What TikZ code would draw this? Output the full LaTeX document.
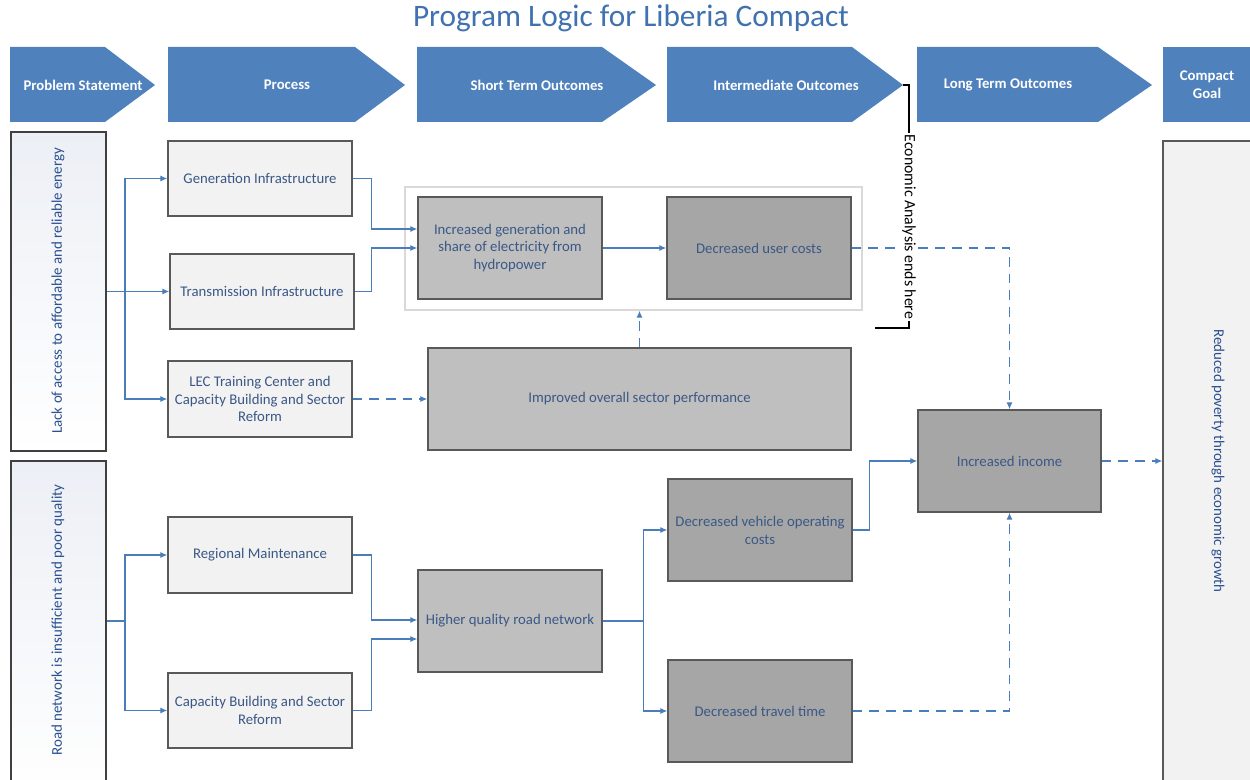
\documentclass[tikz,border=0pt]{standalone}
\usepackage{fontspec}
\setmainfont{Carlito}
\usetikzlibrary{fit,arrows.meta,calc}
\definecolor{hdr}{HTML}{4F81BD}
\definecolor{titlec}{HTML}{3F72AF}
\definecolor{arrc}{HTML}{4A7EBB}
\definecolor{txt}{HTML}{3A5886}
\definecolor{txtb}{HTML}{2B4F8F}
\definecolor{procfill}{HTML}{F2F2F2}
\definecolor{stfill}{HTML}{BFBFBF}
\definecolor{imfill}{HTML}{A6A6A6}
\definecolor{bgray}{HTML}{595959}
\definecolor{pgray}{HTML}{404040}
\definecolor{grpc}{HTML}{D9D9D9}
\definecolor{shadec}{HTML}{ECEFF5}
\newcommand\bxfont{\fontsize{8.4}{10.2}\selectfont}
\newcommand\rtfont{\fontsize{8.5}{10.2}\selectfont}
\newcommand\hdfont{\fontsize{8.4}{10}\selectfont\bfseries}
\tikzset{
  hdrshape/.style={fill=hdr},
  hdrtext/.style={text=white, font=\hdfont, align=center, inner sep=0pt},
  probbox/.style={draw=pgray, line width=1.1pt, top color=shadec, bottom color=white, inner sep=0pt},
  pbox/.style={draw=bgray, line width=0.8pt, fill=procfill, inner sep=0pt, text=txt, align=center, font=\bxfont},
  stbox/.style={pbox, fill=stfill},
  imbox/.style={pbox, fill=imfill},
  grpbox/.style={draw=grpc, line width=0.8pt, fill=white, inner sep=0pt},
  btext/.style={text=txt, font=\bxfont, align=center},
  rottext/.style={text=txtb, font=\rtfont, inner sep=0pt},
  arr/.style={draw=arrc, line width=0.7pt, -{Latex[length=4pt,width=3.5pt]}},
  darr/.style={arr, dash pattern=on 5.5pt off 4pt},
  bracket/.style={draw=black, line width=1.1pt},
}
\begin{document}
\begin{tikzpicture}[x=0.02cm,y=-0.02cm]
\path[use as bounding box] (0,0) rectangle (1250,780);
\clip (0,0) rectangle (1250,780);
\fill[white] (0,0) rectangle (1250,780);

% title
\node[text=titlec, font=\fontsize{17.8}{21}\selectfont, inner sep=0pt] (title) at (631,18) {Program Logic for Liberia Compact};

% header chevrons
\fill[hdrshape] (10,47) -- (105,47) -- (155,85) -- (105,122) -- (10,122) -- cycle;
\fill[hdrshape] (168,47) -- (355,47) -- (405,85) -- (355,122) -- (168,122) -- cycle;
\fill[hdrshape] (417,47) -- (602,47) -- (656,85) -- (602,122) -- (417,122) -- cycle;
\fill[hdrshape] (667,47) -- (852,47) -- (903,85) -- (852,122) -- (667,122) -- cycle;
\fill[hdrshape] (917,47) -- (1098,47) -- (1152,85) -- (1098,122) -- (917,122) -- cycle;
\fill[hdrshape] (1163,47) rectangle (1260,122);
\node[hdrtext] (h1) at (83,85) {Problem Statement};
\node[hdrtext] (h2) at (287,85) {Process};
\node[hdrtext] (h3) at (537,85) {Short Term Outcomes};
\node[hdrtext] (h4) at (786,85) {Intermediate Outcomes};
\node[hdrtext] (h5) at (1008,85) {Long Term Outcomes};
\node[hdrtext] (h6) at (1207,85) {Compact\\Goal};
\coordinate (itip) at (903,85);

% problem statements
\node[probbox, fit={(11,132) (106,451)}] (energy) {};
\node[rottext, rotate=90] (energyt) at (58,291) {Lack of access to affordable and reliable energy};
\node[probbox, fit={(11,461) (106,800)}] (road) {};
\node[rottext, rotate=90] (roadt) at (58,620) {Road network is insufficient and poor quality};

% process
\node[pbox, fit={(168,141) (352,216)}] (gen) {};
\node[btext] at (gen) {Generation Infrastructure};
\node[pbox, fit={(170,254) (354,329)}] (trans) {};
\node[btext] at (trans) {Transmission Infrastructure};
\node[pbox, fit={(168,361) (352,437)}] (lec) {};
\node[btext] at (lec) {LEC Training Center and\\Capacity Building and Sector\\Reform};
\node[pbox, fit={(168,517) (352,593)}] (regm) {};
\node[btext] at (regm) {Regional Maintenance};
\node[pbox, fit={(168,673) (352,748)}] (capb) {};
\node[btext] at (capb) {Capacity Building and Sector\\Reform};

% short term / intermediate
\node[grpbox, fit={(405,187) (862,310)}] (grp) {};
\node[stbox, fit={(418,197) (602,299)}] (incgen) {};
\node[btext] at (incgen) {Increased generation and\\share of electricity from\\hydropower};
\node[imbox, fit={(667,197) (851,299)}] (duc) {};
\node[btext] at (duc) {Decreased user costs};
\node[stbox, fit={(428,348) (851,450)}] (imp) {};
\node[btext] at (imp) {Improved overall sector performance};
\node[stbox, fit={(418,570) (602,672)}] (hq) {};
\node[btext] at (hq) {Higher quality road network};
\node[imbox, fit={(668,479) (852,581)}] (dvoc) {};
\node[btext] at (dvoc) {Decreased vehicle operating\\costs};
\node[imbox, fit={(668,660) (852,762)}] (dtt) {};
\node[btext] at (dtt) {Decreased travel time};

% long term and goal
\node[imbox, fit={(918,410) (1101,512)}] (inc) {};
\node[btext] at (inc) {Increased income};
\node[pbox, fit={(1163,141) (1270,800)}] (goal) {};
\node[rottext, rotate=-90] (goalt) at (1218,461) {Reduced poverty through economic growth};

% connectors energy
\draw[arr] (energy.east) -- ++(18,0) |- (gen.west);
\draw[arr] (energy.east) -- (trans.west);
\draw[arr] (energy.east) -- ++(18,0) |- (lec.west);
\draw[arr] (gen.east) -- ++(19,0) |- (incgen.west |- 0,229);
\draw[arr] (trans.east) -- ++(17,0) |- (incgen.west |- 0,248);
\draw[arr] (incgen.east) -- (duc.west);
\draw[darr] (duc.east) -| (inc.north);
\draw[darr] (lec.east) -- (imp.west);
\draw[darr] (imp.north) -- (imp.north |- grp.south);

% connectors road
\draw[arr] (road.east |- 0,621) -- ++(18,0) |- (regm.west);
\draw[arr] (road.east |- 0,621) -- ++(18,0) |- (capb.west);
\draw[arr] (regm.east) -- ++(19,0) |- (hq.west |- 0,620);
\draw[arr] (capb.east) -- ++(19,0) |- (hq.west |- 0,639);
\draw[arr] (hq.east) -- ++(41,0) |- (dvoc.west);
\draw[arr] (hq.east) -- ++(41,0) |- (dtt.west);
\draw[arr] (dvoc.east) -- ++(17,0) |- (inc.west);
\draw[darr] (dtt.east) -| (inc.south);
\draw[darr] (inc.east) -- (goal.west |- inc.east);

% economic analysis bracket
\draw[bracket] (itip) -- (909,85) -- (909,328) -- (875,328);
\node[rotate=-90, fill=white, text=black, font=\fontsize{9}{11}\selectfont, inner sep=1pt] (econ) at (909,227) {Economic Analysis ends here};
\end{tikzpicture}
\end{document}
